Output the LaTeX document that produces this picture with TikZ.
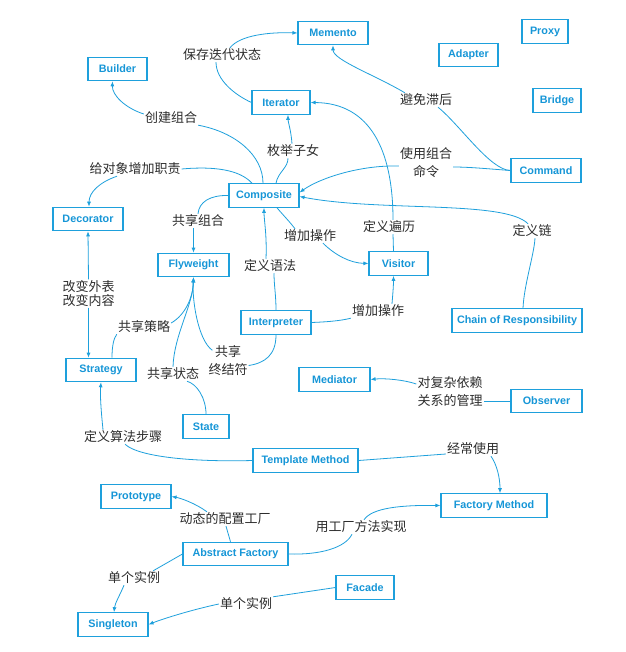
\documentclass[tikz,border=0pt]{standalone}
\usepackage{fontspec}
\setmainfont{Liberation Sans}
\newfontfamily\cjk{Noto Sans CJK SC}
\newfontfamily\boxfont{Liberation Sans}
\usetikzlibrary{arrows.meta}
\definecolor{blu}{RGB}{30,160,220}
\definecolor{blutxt}{RGB}{22,150,215}
\definecolor{labc}{RGB}{45,45,45}
\begin{document}
\begin{tikzpicture}[x=1pt,y=-1pt,
  box/.style={draw=blu, line width=1.1pt, fill=white, text=blutxt, font=\boxfont\bfseries\fontsize{10.8}{12}\selectfont, minimum height=23.5pt, minimum width=#1, inner sep=0pt},
  lbl/.style={font=\cjk\fontsize{13}{18}\selectfont, text=labc, inner sep=1pt, align=center},
  con/.style={draw=blu, line width=0.8pt},
  arr/.style={con, -{Latex[length=5pt,width=4pt]}},
]
\fill[white] (0,0) rectangle (625,652);
\useasboundingbox (0,0) rectangle (625,652);
% boxes
\node[box=70pt] (mem) at (333,33) {Memento};
\node[box=46pt] (proxy) at (545,31.5) {Proxy};
\node[box=59pt] (adapt) at (468.5,55) {Adapter};
\node[box=59pt] (bld) at (117.5,69) {Builder};
\node[box=48pt] (bridge) at (557,100.5) {Bridge};
\node[box=58pt] (iter) at (281,102.5) {Iterator};
\node[box=70pt] (cmd) at (546,170.5) {Command};
\node[box=70pt] (comp) at (264,195.5) {Composite};
\node[box=70pt] (dec) at (88,219) {Decorator};
\node[box=71pt] (fly) at (193.5,265) {Flyweight};
\node[box=59pt] (vis) at (398.5,263.5) {Visitor};
\node[box=70pt] (interp) at (276,322.5) {Interpreter};
\node[box=130pt] (cor) at (517,320.5) {Chain of Responsibility};
\node[box=70pt] (strat) at (101,370) {Strategy};
\node[box=71pt] (med) at (334.5,379.5) {Mediator};
\node[box=71pt] (obs) at (546.5,401) {Observer};
\node[box=46pt] (state) at (206,426.5) {State};
\node[box=105pt] (tm) at (305.5,460.5) {Template Method};
\node[box=70pt] (proto) at (136,496.5) {Prototype};
\node[box=106pt] (fm) at (494,505.5) {Factory Method};
\node[box=105pt] (af) at (235.5,554) {Abstract Factory};
\node[box=58pt] (fac) at (365,587.5) {Facade};
\node[box=70pt] (single) at (113,624.5) {Singleton};
% labels
\node[lbl] (l1) at (222,55) {保存迭代状态};
\node[lbl] (l2) at (426,100) {避免滞后};
\node[lbl] (l3) at (171,118) {创建组合};
\node[lbl] (l4) at (293,151) {枚举子女};
\node[lbl] (l5) at (135,169) {给对象增加职责};
\node[lbl] (l6) at (426,163) {使用组合\\命令};
\node[lbl] (l7) at (198,221) {共享组合};
\node[lbl] (l8) at (389,227) {定义遍历};
\node[lbl] (l9) at (532,231) {定义链};
\node[lbl] (l10) at (310,236) {增加操作};
\node[lbl] (l11) at (270,266) {定义语法};
\node[lbl, font=\cjk\fontsize{13}{13.5}\selectfont] (l12) at (88.5,293.5) {改变外表\\改变内容};
\node[lbl] (l13) at (378,311) {增加操作};
\node[lbl] (l14) at (144,327) {共享策略};
\node[lbl] (l15) at (228,360.5) {共享\\终结符};
\node[lbl] (l16) at (173,374) {共享状态};
\node[lbl] (l17) at (450,392) {对复杂依赖\\关系的管理};
\node[lbl] (l18) at (123,437) {定义算法步骤};
\node[lbl] (l19) at (473,449) {经常使用};
\node[lbl] (l20) at (225,519) {动态的配置工厂};
\node[lbl] (l21) at (361,527) {用工厂方法实现};
\node[lbl] (l22) at (134,578) {单个实例};
\node[lbl] (l23) at (246,604) {单个实例};
% connectors
\draw[con] (iter.west) .. controls (235,95) and (216,80) .. ([xshift=-6pt]l1.south);
\draw[arr] ([xshift=8pt]l1.north) .. controls (240,35) and (270,32) .. (mem.west);
\draw[con] (cmd.west) .. controls (490,170) and (460,125) .. ([xshift=12pt]l2.south);
\draw[arr] ([xshift=6pt]l2.north west) .. controls (375,75) and (333,60) .. (mem.south);
\draw[con] ([xshift=-1pt]comp.north) .. controls (263,155) and (235,132) .. (l3.south east);
\draw[arr] ([yshift=4pt]l3.west) .. controls (125,108) and (112,95) .. ([xshift=-5pt]bld.south);
\draw[con] ([xshift=12pt]comp.north) .. controls (278,172) and (288,168) .. ([xshift=-5pt]l4.south);
\draw[arr] ([xshift=-1pt]l4.north) .. controls (291,130) and (288,122) .. ([xshift=7pt]iter.south);
\draw[con] ([xshift=-12pt]comp.north) .. controls (240,170) and (215,166) .. (l5.east);
\draw[arr] ([xshift=-18pt]l5.south) .. controls (100,182) and (89,192) .. ([xshift=1pt]dec.north);
\draw[con] (comp.west) .. controls (210,195) and (199,202) .. (l7.north);
\draw[arr] (fly.north |- l7.south) -- (fly.north);
\draw[con] (cmd.west) .. controls (490,169) and (470,167) .. ([yshift=-4pt]l6.east);
\draw[arr] ([yshift=-3pt]l6.west) .. controls (360,165) and (320,178) .. ([yshift=3pt]comp.east);
\draw[con] ([xshift=6pt]cor.north) .. controls (524,285) and (534,255) .. ([xshift=3pt]l9.south);
\draw[arr] ([xshift=-4pt]l9.north) .. controls (505,200) and (380,212) .. ([yshift=-1pt]comp.east);
\draw[con] ([xshift=-5pt]vis.north) -- ([xshift=4pt]l8.south);
\draw[arr] ([xshift=4pt]l8.north) .. controls (393,150) and (370,103) .. (iter.east);
\draw[con] ([xshift=13pt]comp.south) .. controls (283,215) and (290,222) .. ([xshift=-15pt]l10.north);
\draw[arr] ([xshift=13pt]l10.south) .. controls (335,255) and (350,263) .. (vis.west);
\draw[con] (interp.north) .. controls (276,295) and (274,285) .. ([xshift=4pt]l11.south);
\draw[arr] ([xshift=-4pt]l11.north) .. controls (267,235) and (264,220) .. (comp.south);
\draw[con] (interp.east) .. controls (325,322) and (340,321) .. (l13.south west);
\draw[arr] ([xshift=14pt]l13.north) .. controls (393,292) and (393.5,285) .. ([xshift=-5pt]vis.south);
\draw[con] (interp.south) .. controls (276,355) and (265,363) .. ([yshift=-5pt]l15.east);
\draw[arr] ([xshift=5pt,yshift=-6pt]l15.north west) .. controls (198,340) and (192,300) .. (fly.south);
\draw[con] ([xshift=11pt]strat.north) .. controls (112,345) and (114,338) .. (l14.south west);
\draw[arr] ([yshift=4pt]l14.east) .. controls (185,315) and (193,298) .. (fly.south);
\draw[con] (state.north) .. controls (206,398) and (197,384) .. ([xshift=14pt]l16.south);
\draw[arr] (l16.north) .. controls (174,335) and (193,305) .. (fly.south);
\draw[arr] (l12.north) -- (dec.south);
\draw[arr] (l12.south) -- ([xshift=-12.5pt]strat.north);
\draw[con] (tm.west) .. controls (200,462) and (140,458) .. ([xshift=2pt]l18.south);
\draw[arr] ([xshift=-20pt]l18.north) .. controls (101,410) and (100,395) .. (strat.south);
\draw[con] (tm.east) -- ([yshift=-5pt]l19.west);
\draw[arr] ([xshift=18pt]l19.south) .. controls (497,465) and (500,478) .. ([xshift=6pt]fm.north);
\draw[con] ([xshift=-5pt]af.north) -- ([xshift=1pt]l20.south);
\draw[arr] ([xshift=-18pt]l20.north) .. controls (195,503) and (180,498) .. (proto.east);
\draw[con] (af.east) .. controls (320,555) and (345,548) .. ([xshift=-9pt]l21.south);
\draw[arr] ([xshift=3pt]l21.north) .. controls (372,508) and (400,505) .. (fm.west);
\draw[con] (af.west) -- ([xshift=-8pt]l22.north east);
\draw[arr] ([xshift=-10pt]l22.south) .. controls (120,595) and (115,603) .. ([xshift=1pt]single.north);
\draw[con] (fac.west) -- (l23.north east);
\draw[arr] (l23.west) .. controls (195,609) and (165,618) .. (single.east);
\draw[con] (obs.west) -- ([yshift=-9pt]l17.east);
\draw[arr] ([yshift=8pt]l17.west) .. controls (405,380) and (385,378) .. (med.east);
\end{tikzpicture}
\end{document}
